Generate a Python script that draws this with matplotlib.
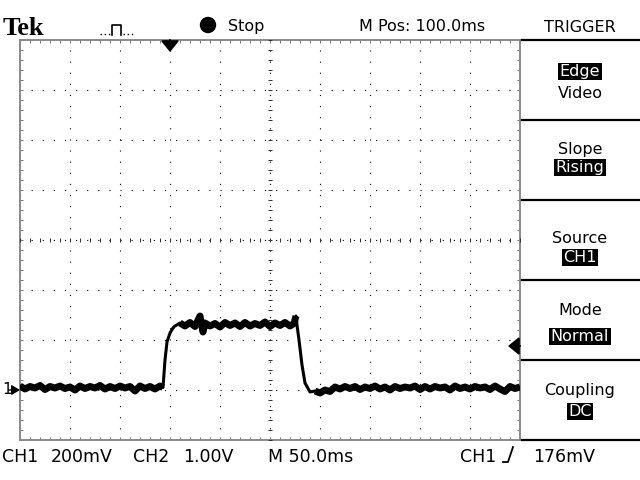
"""
Tek scope screenshot: CH1 pulse with trigger menu.
"""

import matplotlib
matplotlib.use("Agg")
import matplotlib.pyplot as plt
from matplotlib.lines import Line2D
from matplotlib.patches import Ellipse
from matplotlib.ticker import MultipleLocator
import numpy as np

# ===============================
# Scope settings
# ===============================

ms_per_div = 50
volts_per_div = 0.2
mpos_ms = 100
ch1_ground_div = -3
trigger_level_v = 0.176

# ===============================
# CH1 trace (ms from trigger, mV)
# ===============================

left_ms = [-150, -145, -140, -135, -130, -125, -120, -115, -110, -105,
           -100, -95, -90, -85, -80, -75, -70, -65, -60, -55,
           -50, -45, -40, -35, -30, -25, -20, -15, -10, -7]
left_mv = [16, 4, 14, 8, 18, 2, 14, 8, 16, 6,
           12, 0, 16, 6, 14, 8, 18, 4, 14, 6,
           16, 8, 14, -4, 16, 6, 14, 4, 16, 10]

rise_ms = [-5, -3, 0, 3, 5]
rise_mv = [120, 192, 228, 248, 256]

top_ms = [10, 15, 20, 25, 30, 33, 35, 40, 45, 50,
          55, 60, 65, 70, 75, 80, 85, 90, 95, 100,
          105, 110, 115, 120, 124, 126]
top_mv = [268, 256, 270, 254, 296, 232, 268, 256, 266, 252,
          270, 258, 268, 254, 270, 256, 266, 258, 272, 254,
          268, 258, 270, 256, 266, 296]

fall_ms = [127, 129, 132, 135, 140]
fall_mv = [260, 200, 100, 28, -8]

right_ms = [145, 150, 155, 160, 165, 170, 175, 180, 185, 190,
            195, 200, 205, 210, 215, 220, 225, 230, 235, 240,
            245, 250, 255, 260, 265, 270, 275, 280, 285, 290,
            295, 300, 305, 310, 315, 320, 325, 330, 335, 340,
            345, 350]
right_mv = [-4, -12, 0, -6, 12, 4, 14, 6, 14, 2,
            12, 6, 16, 4, 12, 0, 14, 6, 12, 8,
            16, 2, 14, 4, 14, 8, 12, 0, 16, 6,
            12, 4, 14, 8, 12, 2, 16, 4, -6, 14,
            6, 12]

trace_ms = np.array(left_ms + rise_ms + top_ms + fall_ms + right_ms)
trace_v = np.array(left_mv + rise_mv + top_mv + fall_mv + right_mv) / 1000

# menu: (label, highlighted, baseline y in px)
menu_items = [
    ("Edge", True, 76), ("Video", False, 98),
    ("Slope", False, 154), ("Rising", True, 172),
    ("Source", False, 243), ("CH1", True, 262),
    ("Mode", False, 315), ("Normal", True, 341),
    ("Coupling", False, 395), ("DC", True, 416),
]
menu_lines_px = [40, 120, 200, 280, 360, 440]

# bottom readout: (text, left x px)
readout = [("CH1", 2), ("200mV", 51), ("CH2", 133), ("1.00V", 183),
           ("M 50.0ms", 268), ("CH1", 460), ("176mV", 533)]

FS = 11.5
W, H = 640, 480


def fx(x):
    return x / W


def fy(y):
    return 1 - y / H


fig = plt.figure(figsize=(6.4, 4.8), dpi=100)
fig.patch.set_facecolor("white")

rect = [fx(20), fy(440), 500 / W, 400 / H]
ax = fig.add_axes(rect)

xlim = (mpos_ms - 5 * ms_per_div, mpos_ms + 5 * ms_per_div)
ylim = ((-4 - ch1_ground_div) * volts_per_div, (4 - ch1_ground_div) * volts_per_div)
ax.set_xlim(*xlim)
ax.set_ylim(*ylim)

ax.xaxis.set_major_locator(MultipleLocator(ms_per_div))
ax.yaxis.set_major_locator(MultipleLocator(volts_per_div))
ax.xaxis.set_minor_locator(MultipleLocator(ms_per_div / 5))
ax.yaxis.set_minor_locator(MultipleLocator(volts_per_div / 5))
ax.grid(which="major", color="black", linewidth=0.8, linestyle=(0, (1, 9)))
ax.tick_params(which="both", direction="in", length=2.2, width=0.72,
               color="#777777", top=True, right=True,
               labelbottom=False, labelleft=False)
for s in ax.spines.values():
    s.set_color("#8a8a8a")
    s.set_linewidth(1.4)

# centre cross graticule ticks
cross = fig.add_axes(rect, sharex=ax, sharey=ax)
cross.patch.set_visible(False)
cross.spines["top"].set_visible(False)
cross.spines["right"].set_visible(False)
cross.spines["left"].set_position(("data", mpos_ms))
cross.spines["bottom"].set_position(("data", sum(ylim) / 2))
cross.spines["left"].set_color("none")
cross.spines["bottom"].set_color("none")
cross.tick_params(which="both", direction="inout", length=2.6, width=0.72,
                  color="#333333", labelbottom=False, labelleft=False)

# trace: noise band on the flat parts, thinner line through the edges
for seg_ms, seg_mv in [(left_ms, left_mv), (top_ms, top_mv), (right_ms, right_mv)]:
    ax.plot(seg_ms, np.array(seg_mv) / 1000, color="black", linewidth=5.0,
            solid_joinstyle="round", solid_capstyle="butt", zorder=3)
ax.plot(trace_ms, trace_v, color="black", linewidth=2.2, zorder=3)

# ground marker "1"
ax.annotate("", xy=(xlim[0], 0), xytext=(-11, 0), textcoords="offset pixels",
            arrowprops=dict(arrowstyle="-|>,head_length=0.5,head_width=0.3",
                            color="black", lw=1, mutation_scale=10,
                            shrinkA=0, shrinkB=0), annotation_clip=False)
ax.annotate("1", xy=(xlim[0], 0), xytext=(-18, 0), textcoords="offset pixels",
            ha="left", va="center", fontsize=11, annotation_clip=False)

# trigger level arrow on the right
ax.annotate("", xy=(xlim[1] - 12, trigger_level_v), xytext=(xlim[1], trigger_level_v),
            arrowprops=dict(arrowstyle="-|>,head_length=0.55,head_width=0.45",
                            color="black", lw=1.5, mutation_scale=12,
                            shrinkA=0, shrinkB=0), annotation_clip=False)

# trigger position arrow at the top
px_v = (ylim[1] - ylim[0]) / 400
ax.annotate("", xy=(0, ylim[1] - 12 * px_v), xytext=(0, ylim[1]),
            arrowprops=dict(arrowstyle="-|>,head_length=0.55,head_width=0.45",
                            color="black", lw=1.5, mutation_scale=12,
                            shrinkA=0, shrinkB=0), annotation_clip=False)

# ===============================
# Top status line
# ===============================

fig.text(fx(3), fy(35), "Tek", family="Liberation Serif", weight="bold",
         fontsize=19, va="baseline")

# acquisition icon
fig.add_artist(Line2D([fx(100), fx(110)], [fy(34), fy(34)], transform=fig.transFigure,
                      color="black", lw=1, linestyle=(0, (1, 2))))
fig.add_artist(Line2D([fx(112), fx(112), fx(121), fx(121)],
                      [fy(35), fy(25), fy(25), fy(35)],
                      transform=fig.transFigure, color="black", lw=1.2))
fig.add_artist(Line2D([fx(123), fx(134)], [fy(34), fy(34)], transform=fig.transFigure,
                      color="black", lw=1, linestyle=(0, (1, 2))))

fig.add_artist(Ellipse((fx(208), fy(25)), 15 / W, 15 / H,
                       transform=fig.transFigure, color="black"))
fig.text(fx(228), fy(31), "Stop", fontsize=FS, va="baseline")
fig.text(fx(359), fy(31), "M Pos: 100.0ms", fontsize=FS, va="baseline")
fig.text(fx(580), fy(32), "TRIGGER", fontsize=FS, va="baseline", ha="center")

# ===============================
# Right menu
# ===============================

for y in menu_lines_px:
    fig.add_artist(Line2D([fx(522), fx(640)], [fy(y), fy(y)],
                          transform=fig.transFigure, color="black", lw=1.6))

for label, hl, base in menu_items:
    if hl:
        fig.text(fx(580), fy(base), label, fontsize=FS, va="baseline", ha="center",
                 color="white",
                 bbox=dict(facecolor="black", edgecolor="none", pad=1.0))
    else:
        fig.text(fx(580), fy(base), label, fontsize=FS, va="baseline", ha="center")

# ===============================
# Bottom readout
# ===============================

for txt, x in readout:
    fig.text(fx(x), fy(462), txt, fontsize=12.5, va="baseline")

# rising slope symbol
fig.add_artist(Line2D([fx(503), fx(508), fx(513)], [fy(462), fy(462), fy(447)],
                      transform=fig.transFigure, color="black", lw=1.3))

plt.savefig("out.png", dpi=100)
